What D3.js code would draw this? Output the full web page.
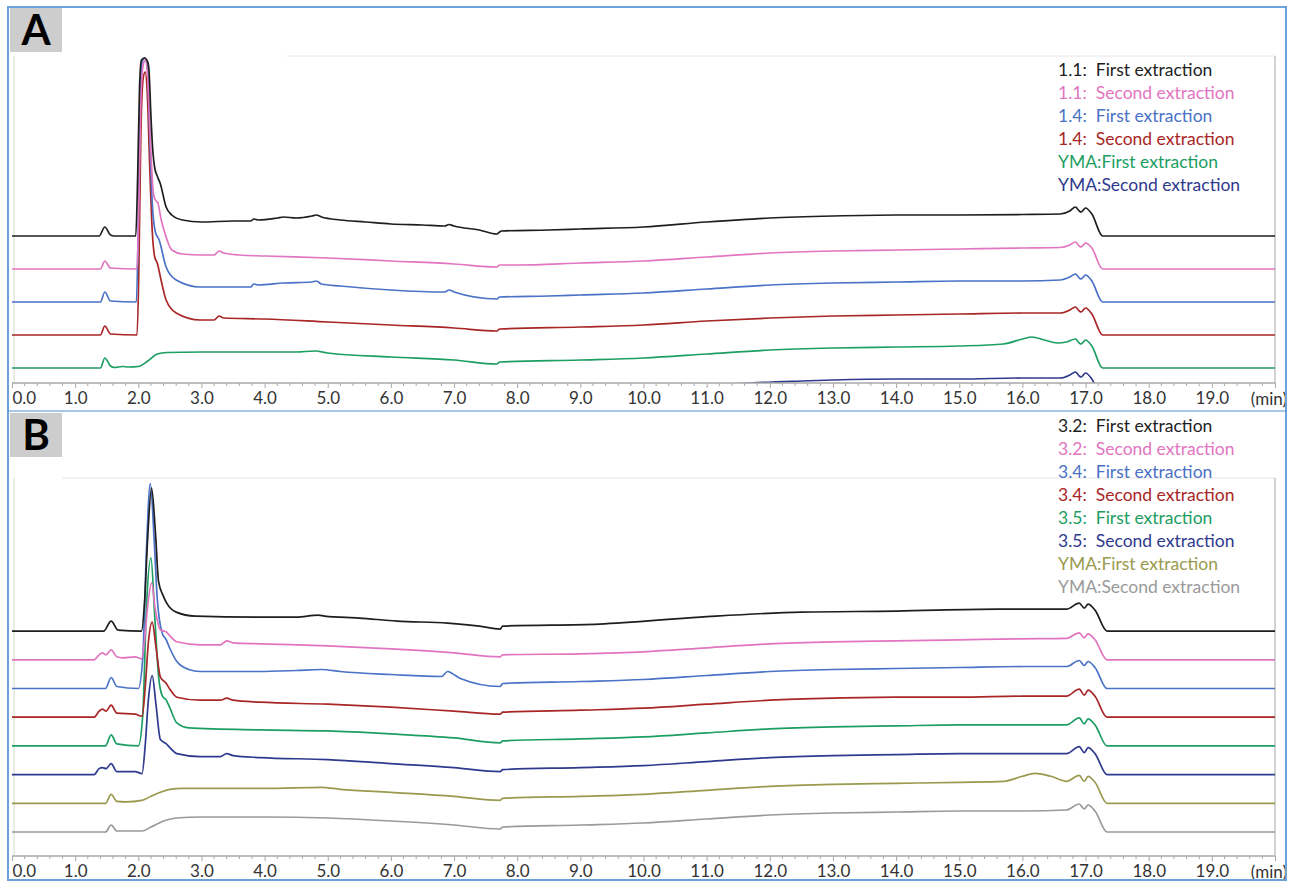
<!DOCTYPE html>
<html><head><meta charset="utf-8">
<script src="https://cdn.jsdelivr.net/npm/d3@7"></script>
<style>
body{margin:0;background:#fff}
svg{display:block}
text{font-family:Lato,"Open Sans",sans-serif}
</style>
</head><body>
<svg id="c" width="1294" height="884"></svg>
<script>
// ---------------- DATA ----------------
const xTicks = [0,1,2,3,4,5,6,7,8,9,10,11,12,13,14,15,16,17,18,19];
const xTickLabels = ["0.0","1.0","2.0","3.0","4.0","5.0","6.0","7.0","8.0","9.0","10.0","11.0","12.0","13.0","14.0","15.0","16.0","17.0","18.0","19.0"];
const xUnit = "(min)";

const namesA = ["1.1:  First extraction","1.1:  Second extraction","1.4:  First extraction","1.4:  Second extraction","YMA:First extraction","YMA:Second extraction"];
const namesB = ["3.2:  First extraction","3.2:  Second extraction","3.4:  First extraction","3.4:  Second extraction","3.5:  First extraction","3.5:  Second extraction","YMA:First extraction","YMA:Second extraction"];

// [time (min), signal above own baseline]
const a11First = [[0,0],[1.38,0],[1.47,9],[1.56,1],[1.62,0],[1.96,0],[1.99,60],[2.02,150],[2.05,176],[2.1,178],[2.15,174],[2.17,165],[2.2,120],[2.23,85],[2.26,68],[2.3,60],[2.35,52],[2.44,29],[2.53,21],[2.7,16],[3.0,14],[3.5,15],[3.78,15],[3.83,17],[3.9,16],[4.2,18],[4.3,19],[4.5,18],[4.75,20],[4.82,21],[4.9,19],[5.2,16],[5.6,14],[6.0,12],[6.5,11],[6.85,10],[6.92,11.5],[7.0,10],[7.4,6],[7.68,2],[7.72,4],[7.75,5],[8.5,6],[9.0,7],[10,9],[11,14],[12,18],[13,20],[14,21],[15,21],[16,21.5],[16.6,22],[16.75,25],[16.84,29],[16.9,25],[16.93,24],[17.0,28],[17.1,22],[17.27,0],[20,0]];
const a11Second = [[0,0],[1.4,0],[1.47,8],[1.56,1],[1.98,0],[2.01,70],[2.04,170],[2.08,205],[2.11,209],[2.15,190],[2.19,130],[2.24,75],[2.27,69],[2.31,66],[2.36,50],[2.44,32],[2.53,19],[2.7,15],[3.0,14],[3.2,14],[3.28,18],[3.35,16],[3.6,14],[4,13],[5,11],[6,8],[7,5],[7.68,2],[7.72,4],[8,4],[9,6],[10,8],[11,12],[12,16],[13,18],[14,19],[15,20],[16,21],[16.6,21.5],[16.75,24],[16.84,27],[16.9,23],[16.93,22],[17.0,26],[17.1,21],[17.27,0],[20,0]];
const a14First = [[0,0],[1.4,0],[1.47,10],[1.56,1],[1.97,0],[2.0,80],[2.03,200],[2.06,240],[2.1,244],[2.14,238],[2.18,170],[2.22,100],[2.27,70],[2.33,62],[2.44,35],[2.6,22],[2.98,15],[3.5,15],[3.78,15],[3.83,18],[3.9,17],[4.3,19],[4.75,20],[4.82,21],[4.9,18],[5.2,16],[6,12],[6.85,10],[6.92,12],[7.0,10],[7.68,3],[7.72,5],[8.5,6],[9,7],[10,9],[11,13],[12,17],[13,19],[14,20],[15,21],[16,21],[16.6,22],[16.75,25],[16.84,28],[16.9,24],[16.93,23],[17.0,27],[17.1,21],[17.27,0],[20,0]];
const a14Second = [[0,0],[1.4,0],[1.47,9],[1.56,1],[1.98,0],[2.01,70],[2.04,200],[2.08,258],[2.11,263],[2.14,245],[2.18,170],[2.22,105],[2.26,78],[2.3,72],[2.36,55],[2.44,35],[2.6,22],[2.98,15],[3.2,15],[3.28,19],[3.35,17],[4,16],[5,13],[6,10],[7,7],[7.68,4],[7.72,6],[9,8],[10,10],[11,14],[12,17],[13,19],[14,20],[15,21],[16,22],[16.6,22],[16.75,25],[16.84,28],[16.9,24],[16.93,23],[17.0,27],[17.1,21],[17.27,0],[20,0]];
const aYmaFirst = [[0,0],[1.4,0],[1.47,10],[1.56,2],[1.62,0.5],[1.75,1.5],[1.85,1],[2.0,1.5],[2.15,7],[2.3,14],[2.45,15.5],[3.0,16],[4.0,16],[4.5,16],[4.8,17],[5.0,15],[6.0,11],[7.0,8],[7.68,4],[7.72,6],[9,8],[10,10],[11,14],[12,18],[13,20],[14,21],[15,22],[15.7,24],[16.0,29],[16.15,31],[16.35,28],[16.55,25],[16.7,26],[16.84,29],[16.9,25],[16.93,24],[17.0,28],[17.1,22],[17.27,0],[20,0]];
const aYmaSecond = [[0,0],[1.4,0],[1.47,9],[1.56,1],[2.0,1],[2.15,6],[2.4,14],[3,15],[4,15],[5,14],[6,10],[7,7],[7.68,3],[7.72,5],[9,8],[10,12],[11,15],[11.7,18],[12.5,20],[13,21],[14,22],[15,22],[16,23],[16.6,23],[16.75,26],[16.84,29],[16.9,25],[16.93,24],[17.0,28],[17.1,22],[17.27,0],[20,0]];

const b32First = [[0,0],[1.45,0],[1.57,10],[1.68,1],[2.05,0],[2.1,30],[2.15,95],[2.21,143],[2.27,100],[2.32,50],[2.39,36],[2.45,28],[2.6,19],[2.9,15],[3.9,14],[4.5,14],[4.85,16],[4.95,15],[5.5,13],[6.1,10],[6.9,8],[7.4,5],[7.73,2],[7.77,5],[9.3,7],[10.9,14],[12.5,19],[14,20],[15.6,22],[16.7,22],[16.9,28],[16.98,23],[17.04,27],[17.15,21],[17.34,0],[20,0]];
const b32Second = [[0,0],[1.3,0],[1.38,5],[1.43,7],[1.49,5],[1.57,10],[1.66,3],[1.75,2],[1.95,3],[2.05,1],[2.1,20],[2.15,55],[2.21,77],[2.27,50],[2.35,30],[2.44,28],[2.5,24],[2.61,18],[2.98,15],[3.3,15],[3.4,19],[3.5,17],[3.93,16],[5,14],[6,11],[7,7],[7.73,3],[7.77,5],[9,6],[10,8],[11,12],[12,16],[13,18],[14,19],[15,20],[16,21],[16.7,21.5],[16.9,27],[16.98,22],[17.04,26],[17.15,20],[17.34,0],[20,0]];
const b34First = [[0,0],[1.48,0],[1.57,11],[1.66,2],[2.0,0],[2.07,30],[2.13,140],[2.19,205],[2.25,150],[2.3,90],[2.38,55],[2.44,49],[2.5,40],[2.61,27],[2.8,19],[2.98,17],[3.9,17],[4.5,18],[4.9,19],[5.2,17],[6.0,14],[6.8,12],[6.9,17],[6.97,15],[7.1,10],[7.73,2],[7.77,5],[9,7],[10,9],[11,13],[12,17],[13,19],[14,20],[15,21],[16,22],[16.7,22],[16.9,28],[16.98,23],[17.04,27],[17.15,21],[17.34,0],[20,0]];
const b34Second = [[0,0],[1.3,0],[1.38,6],[1.43,8],[1.49,6],[1.57,12],[1.66,4],[1.95,3],[2.06,1],[2.11,30],[2.16,75],[2.22,95],[2.28,70],[2.35,40],[2.44,34],[2.5,28],[2.61,20],[2.98,17],[3.3,17],[3.4,19],[3.5,17],[3.93,15],[5,13],[6,10],[7,6],[7.73,3],[7.77,5],[9,7],[10,9],[11,13],[12,17],[13,19],[14,20],[15,20],[16,21],[16.7,21],[16.9,28],[16.98,22],[17.04,27],[17.15,21],[17.34,0],[20,0]];
const b35First = [[0,0],[1.48,0],[1.57,11],[1.66,2],[2.0,0],[2.07,30],[2.13,140],[2.2,188],[2.26,130],[2.32,70],[2.38,50],[2.44,46],[2.5,38],[2.61,23],[2.8,18],[3.93,16],[5,15],[6,12],[7,8],[7.73,3],[7.77,5],[9,7],[10,9],[11,13],[12,17],[13,19],[14,20],[15,21],[16,21],[16.7,21],[16.9,28],[16.98,22],[17.04,27],[17.15,21],[17.34,0],[20,0]];
const b35Second = [[0,0],[1.3,0],[1.38,6],[1.43,7],[1.49,6],[1.57,11],[1.66,3],[1.95,3],[2.06,1],[2.11,30],[2.16,75],[2.22,99],[2.28,70],[2.35,35],[2.44,31],[2.5,27],[2.61,21],[2.98,18],[3.3,18],[3.4,21],[3.5,19],[3.93,17],[5,15],[6,11],[7,7],[7.73,3],[7.77,5],[9,7],[10,9],[11,13],[12,17],[13,19],[14,20],[15,21],[16,21],[16.7,21],[16.9,28],[16.98,22],[17.04,27],[17.15,21],[17.34,0],[20,0]];
const bYmaFirst = [[0,0],[1.48,0],[1.57,9],[1.66,2],[1.8,1.5],[2.06,3],[2.2,7],[2.35,11],[2.5,14],[2.7,15],[3.0,15],[4.0,15],[4.9,16],[5.2,14],[6,11],[7,7],[7.73,3],[7.77,5],[9,7],[10,9],[11,13],[12,17],[13,19],[14,20],[15,21],[15.7,22],[16.0,27],[16.2,30],[16.45,27],[16.7,22],[16.9,28],[16.98,22],[17.04,27],[17.15,21],[17.34,0],[20,0]];
const bYmaSecond = [[0,0],[1.48,0],[1.57,7],[1.66,1],[2.06,1],[2.2,5],[2.4,11],[2.6,14],[3.0,15],[4,15],[5,14],[6,11],[7,7],[7.73,3],[7.77,5],[9,7],[10,9],[11,13],[12,17],[13,19],[14,20],[15,21],[16,21],[16.7,22],[16.9,28],[16.98,23],[17.04,27],[17.15,21],[17.34,0],[20,0]];

const tracesA = [a11First,a11Second,a14First,a14Second,aYmaFirst,aYmaSecond];
const tracesB = [b32First,b32Second,b34First,b34Second,b35First,b35Second,bYmaFirst,bYmaSecond];

// ---------------- STYLE ----------------
const colorsA = ["#1e1e1e","#e275c0","#4a72c6","#a82626","#1c9e62","#2f3a8e"];
const colorsB = ["#1e1e1e","#e275c0","#4a72c6","#a82626","#1c9e62","#2f3a8e","#9a9a4e","#9a9a9a"];

const svg = d3.select("#c");
const X0 = 12, X1 = 1275;
const x = d3.scaleLinear().domain([0,20]).range([X0,X1]);

function panel(cfg){
  const g = svg.append("g");
  const n = cfg.traces.length;
  const y = d3.scaleLinear().domain([0, cfg.span]).range([cfg.base, cfg.base - cfg.span]);
  const clipId = "clip" + cfg.id;
  svg.append("clipPath").attr("id", clipId).append("rect")
    .attr("x", X0).attr("y", cfg.top).attr("width", X1 - X0).attr("height", cfg.axisY - cfg.top);

  // frame
  g.append("line").attr("x1", cfg.frameTopX).attr("x2", X1).attr("y1", cfg.top).attr("y2", cfg.top)
    .attr("stroke", "#e6e6e6").attr("stroke-width", 1);
  g.append("line").attr("x1", X1).attr("x2", X1).attr("y1", cfg.top).attr("y2", cfg.axisY)
    .attr("stroke", "#c4c4c4").attr("stroke-width", 1.5);
  g.append("line").attr("x1", X0+2).attr("x2", X0+2).attr("y1", cfg.top).attr("y2", cfg.axisY)
    .attr("stroke", "#d6d6d6").attr("stroke-width", 1);

  const line = d3.line().x(d => x(d[0])).curve(d3.curveMonotoneX);
  const lg = g.append("g").attr("clip-path", `url(#${clipId})`);
  for (let i = n - 1; i >= 0; i--) {
    const off = (n - 1 - i) * cfg.step;
    lg.append("path")
      .attr("d", line.y(d => y(d[1] + off))(cfg.traces[i]))
      .attr("fill", "none").attr("stroke", cfg.colors[i])
      .attr("stroke-width", 1.7).attr("stroke-linejoin", "round");
  }

  // axis
  const ax = g.append("g").attr("transform", `translate(0,${cfg.axisY})`);
  ax.append("line").attr("x1", X0).attr("x2", X1).attr("y1", 0).attr("y2", 0)
    .attr("stroke", "#a8a8a8").attr("stroke-width", 1.5);
  const minor = d3.range(0, 100).map(k => k * 0.2).filter(v => Math.abs(v - Math.round(v)) > 1e-6);
  ax.selectAll("line.mn").data(minor).join("line").attr("class","mn")
    .attr("x1", d => x(d)).attr("x2", d => x(d)).attr("y1", 0).attr("y2", 3)
    .attr("stroke", "#a8a8a8").attr("stroke-width", 1);
  const axis = d3.axisBottom(x).tickValues(xTicks.concat([20]))
    .tickFormat((d,i) => i < xTickLabels.length ? xTickLabels[i] : "")
    .tickSize(5).tickPadding(4);
  const axg = ax.append("g").call(axis);
  axg.select(".domain").remove();
  axg.selectAll(".tick line").attr("stroke", "#a8a8a8").attr("stroke-width", 1);
  axg.selectAll(".tick text").attr("font-size", 17).attr("fill", "#333")
    .attr("font-family", "Lato, 'Open Sans', sans-serif");
  axg.selectAll(".tick text").filter((d,i) => i === 0).attr("text-anchor", "start");
  ax.append("text").attr("x", 1287).attr("y", 22).attr("text-anchor", "end")
    .attr("font-size", 17).attr("fill", "#333").text(xUnit);

  // legend
  const leg = g.append("g");
  cfg.names.forEach((nm, i) => {
    leg.append("text").attr("x", 1058).attr("y", cfg.legY + i * 23)
      .attr("font-size", 17.5).attr("fill", cfg.colors[i])
      .style("white-space", "pre").text(nm);
  });

  // panel letter
  g.append("rect").attr("x", 10).attr("y", cfg.labY).attr("width", 52).attr("height", 44).attr("fill", "#cdcdcd");
  g.append("text").attr("x", 36).attr("y", cfg.labY + 37).attr("text-anchor", "middle")
    .attr("font-family", "'Liberation Sans', Arial, sans-serif").attr("font-weight", "bold")
    .attr("font-size", 42).attr("fill", "#000").text(cfg.letter);
}

panel({id:"A", traces: tracesA, colors: colorsA, names: namesA, letter:"A",
  base: 401, span: 345, step: 33, top: 56, axisY: 383, legY: 76, labY: 8, frameTopX: 287});
panel({id:"B", traces: tracesB, colors: colorsB, names: namesB, letter:"B",
  base: 832, span: 354, step: 28.7, top: 478, axisY: 856, legY: 432, labY: 413, frameTopX: 62});

// outer border + separator
svg.append("line").attr("x1", 9).attr("x2", 1286).attr("y1", 411).attr("y2", 411)
  .attr("stroke", "#a7c6ea").attr("stroke-width", 2);
svg.append("rect").attr("x", 8).attr("y", 7).attr("width", 1278).attr("height", 873)
  .attr("fill", "none").attr("stroke", "#6aa3dc").attr("stroke-width", 2);
</script>
</body></html>
